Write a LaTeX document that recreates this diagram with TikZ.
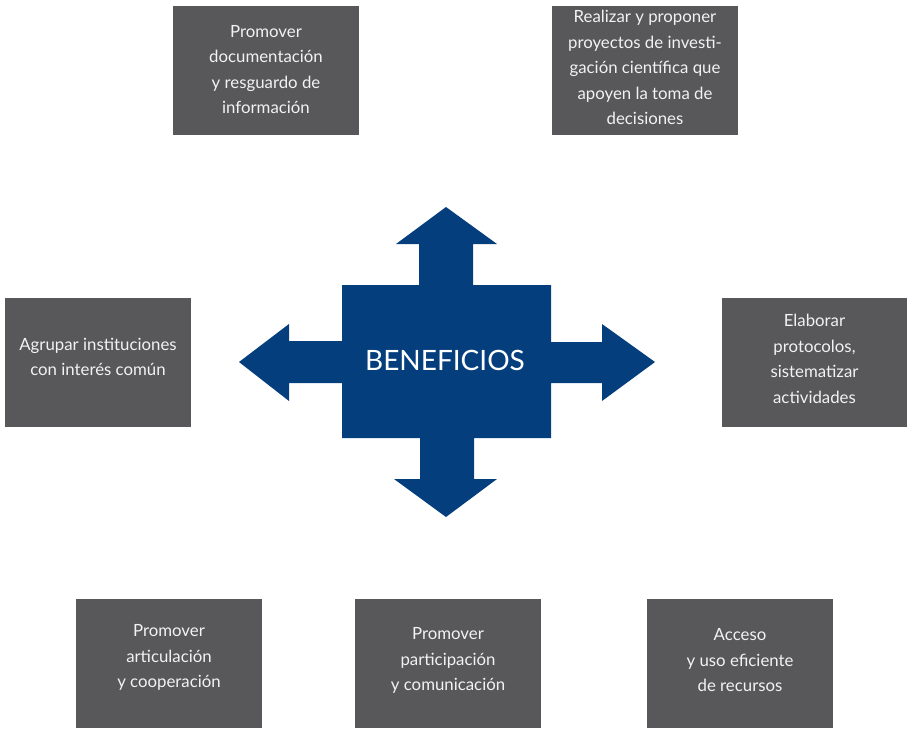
\documentclass[tikz,border=0pt]{standalone}
\usepackage{fontspec}
\setmainfont{Lato}
\usetikzlibrary{calc}
\definecolor{boxgrey}{RGB}{88,88,90}
\definecolor{benblue}{RGB}{4,62,125}
\begin{document}
\begin{tikzpicture}[x=1pt,y=-1pt,
  gbox/.style={fill=boxgrey,draw=none,minimum width=186pt,minimum height=129pt,inner sep=0pt},
  gtext/.style={text=white!92!boxgrey,align=center,font=\fontsize{16.8}{25.5}\selectfont,inner sep=0pt}]
\useasboundingbox (0,0) rectangle (907,728);
% boxes
\node[gbox] (b1) at (266,70.5) {};
\node[gbox] (b2) at (645,70.5) {};
\node[gbox] (b3) at (98,362) {};
\node[gbox] (b4) at (814.5,362) {};
\node[gbox] (b5) at (169,663.5) {};
\node[gbox] (b6) at (448,663.5) {};
\node[gbox] (b7) at (740,663.5) {};
% texts
\node[gtext] (t1) at ($(b1.center)+(0,-1)$) {Promover\\documentación\\y resguardo de\\información};
\node[gtext] (t2) at ($(b2.center)+(0,-3)$) {Realizar y proponer\\proyectos de investi-\\gación científica que\\apoyen la toma de\\decisiones};
\node[gtext] (t3) at ($(b3.center)+(0,-5)$) {Agrupar instituciones\\con interés común};
\node[gtext] (t4) at ($(b4.center)+(0,-3)$) {Elaborar\\protocolos,\\sistematizar\\actividades};
\node[gtext] (t5) at ($(b5.center)+(0,-6)$) {Promover\\articulación\\y cooperación};
\node[gtext] (t6) at ($(b6.center)+(0,-3)$) {Promover\\participación\\y comunicación};
\node[gtext] (t7) at ($(b7.center)+(0,-3)$) {Acceso\\y uso eficiente\\de recursos};
% central cross with arrows
\fill[benblue] (446,207) -- (497,244) -- (473,244) -- (473,285) -- (551,285) -- (551,342)
  -- (602,342) -- (602,324) -- (655,362) -- (602,401) -- (602,383) -- (551,383)
  -- (551,438) -- (474,438) -- (474,479) -- (497,479) -- (446,517) -- (394,479)
  -- (420,479) -- (420,438) -- (342,438) -- (342,383) -- (289,383) -- (289,401)
  -- (239,362) -- (289,324) -- (289,341) -- (342,341) -- (342,285) -- (419,285)
  -- (419,244) -- (396,244) -- cycle;
\node[text=white,font=\fontsize{28}{31}\selectfont,inner sep=0pt] (ben) at (445,360) {BENEFICIOS};
\end{tikzpicture}
\end{document}
